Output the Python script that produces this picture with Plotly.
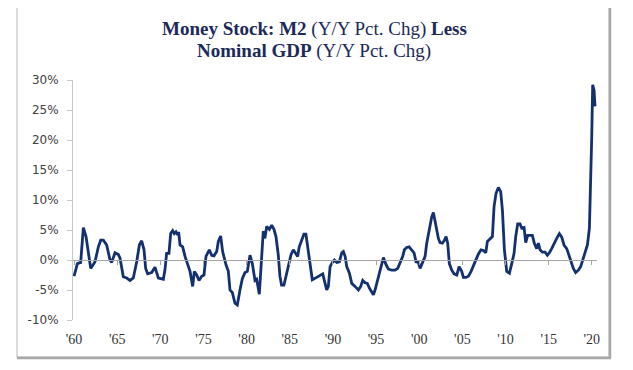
import plotly.graph_objects as go

years = [
    1960.00, 1960.39, 1960.77, 1961.08, 1961.39, 1961.66, 1961.93, 1962.16, 1962.43, 1962.82,
    1963.09, 1963.40, 1963.78, 1964.17, 1964.36, 1964.75, 1965.14, 1965.33, 1965.71, 1966.10,
    1966.49, 1966.87, 1967.07, 1967.26, 1967.57, 1967.84, 1968.11, 1968.30, 1968.53, 1969.00,
    1969.38, 1969.58, 1969.77, 1970.35, 1970.54, 1970.73, 1971.00, 1971.20, 1971.43, 1971.62,
    1971.81, 1972.01, 1972.12, 1972.28, 1972.59, 1972.86, 1973.17, 1973.44, 1973.75, 1973.94,
    1974.21, 1974.48, 1974.79, 1975.06, 1975.29, 1975.68, 1975.95, 1976.22, 1976.53, 1976.72,
    1976.99, 1977.22, 1977.61, 1977.88, 1978.07, 1978.34, 1978.65, 1978.92, 1979.23, 1979.50,
    1979.81, 1980.08, 1980.39, 1980.66, 1980.97, 1981.16, 1981.47, 1981.74, 1981.93, 1982.12,
    1982.32, 1982.63, 1982.90, 1983.17, 1983.40, 1983.67, 1983.86, 1984.05, 1984.32, 1984.63,
    1984.94, 1985.14, 1985.41, 1985.71, 1985.91, 1986.10, 1986.37, 1986.64, 1986.87, 1987.14,
    1987.34, 1987.61, 1988.12, 1988.51, 1988.82, 1989.09, 1989.28, 1989.47, 1989.67, 1989.98,
    1990.17, 1990.44, 1990.75, 1991.02, 1991.21, 1991.41, 1991.60, 1991.91, 1992.18, 1992.56,
    1992.95, 1993.22, 1993.45, 1993.72, 1993.99, 1994.23, 1994.50, 1994.69, 1994.88, 1995.07,
    1995.38, 1995.65, 1995.85, 1996.16, 1996.43, 1996.81, 1997.20, 1997.51, 1997.78, 1998.09,
    1998.28, 1998.55, 1998.82, 1999.13, 1999.40, 1999.63, 1999.90, 2000.10, 2000.41, 2000.68,
    2000.87, 2001.18, 2001.45, 2001.64, 2001.83, 2002.03, 2002.22, 2002.41, 2002.68, 2002.92,
    2003.11, 2003.30, 2003.49, 2003.77, 2004.04, 2004.35, 2004.62, 2004.92, 2005.12, 2005.43,
    2005.70, 2006.01, 2006.28, 2006.59, 2006.86, 2007.16, 2007.43, 2007.71, 2007.90, 2008.21,
    2008.48, 2008.67, 2008.90, 2009.17, 2009.44, 2009.64, 2009.87, 2010.14, 2010.45, 2010.72,
    2010.99, 2011.18, 2011.41, 2011.68, 2011.88, 2012.15, 2012.34, 2012.57, 2012.84, 2013.11,
    2013.34, 2013.61, 2013.81, 2014.00, 2014.27, 2014.58, 2014.85, 2015.08, 2015.35, 2015.62,
    2015.93, 2016.24, 2016.51, 2016.78, 2017.09, 2017.28, 2017.55, 2017.86, 2018.13, 2018.44,
    2018.71, 2018.95, 2019.22, 2019.49, 2019.72, 2019.87, 2019.99, 2020.10, 2020.26, 2020.37,
]

spread_pct = [
    -2.7, -0.6, -0.4, 5.4, 3.9, 1.5, -1.4, -0.9, -0.3, 2.2,
    3.3, 3.3, 2.5, 0.0, -0.4, 1.2, 0.9, 0.3, -2.8, -3.0,
    -3.4, -3.0, -1.7, -0.3, 2.5, 3.2, 1.7, -1.4, -2.3, -2.1,
    -1.2, -2.1, -3.0, -3.2, -1.6, 1.1, 1.1, 4.4, 4.9, 4.4,
    4.7, 4.2, 4.7, 2.5, 2.2, 0.6, -0.6, -1.9, -4.4, -1.9,
    -2.5, -3.4, -2.7, -2.5, 0.6, 1.7, 0.8, 0.7, 1.4, 3.1,
    4.0, 1.4, -0.8, -1.9, -5.0, -5.4, -7.2, -7.5, -5.0, -3.1,
    -2.1, -1.9, 0.8, -0.6, -3.4, -3.2, -5.7, 1.7, 4.8, 3.6,
    5.6, 5.1, 5.8, 5.1, 3.9, 0.8, -2.7, -4.2, -4.2, -2.3,
    -0.3, 0.9, 1.7, 1.1, 0.6, 2.2, 3.3, 4.3, 4.3, 1.4,
    -0.3, -3.3, -2.9, -2.5, -2.3, -3.9, -5.0, -4.4, -1.1, -0.3,
    0.0, -0.4, -0.3, 1.2, 1.4, 0.6, -1.1, -2.2, -3.9, -4.4,
    -5.0, -4.4, -3.4, -3.8, -3.9, -4.7, -5.4, -5.8, -5.0, -3.9,
    -1.9, -0.6, 0.4, -0.8, -1.5, -1.7, -1.7, -1.4, -0.6, 0.6,
    1.7, 2.1, 2.2, 1.7, 1.2, -0.3, -0.4, -1.4, -0.3, 0.6,
    2.8, 5.0, 7.2, 7.9, 6.4, 4.9, 3.6, 2.9, 2.8, 3.3,
    3.9, 2.8, -0.6, -1.7, -2.3, -2.5, -1.1, -1.9, -2.9, -2.9,
    -2.7, -1.9, -1.1, 0.1, 1.0, 1.7, 1.6, 1.2, 3.1, 3.6,
    3.9, 8.9, 11.1, 12.1, 11.4, 8.3, 1.7, -1.9, -2.2, -0.6,
    1.1, 3.9, 6.0, 6.0, 5.3, 5.4, 2.9, 4.1, 4.1, 4.1,
    2.8, 1.9, 2.8, 1.7, 1.3, 1.3, 0.8, 1.2, 1.9, 2.8,
    3.6, 4.4, 3.8, 2.5, 1.9, 1.1, 0.0, -1.4, -2.1, -1.7,
    -1.1, 0.0, 1.1, 2.5, 5.3, 12.2, 20.6, 29.2, 28.3, 25.6,
]

x_tick_vals = [1960, 1965, 1970, 1975, 1980, 1985, 1990, 1995, 2000, 2005, 2010, 2015, 2020]
x_tick_text = ["'60", "'65", "'70", "'75", "'80", "'85", "'90", "'95", "'00", "'05", "'10", "'15", "'20"]
y_tick_vals = [-10, -5, 0, 5, 10, 15, 20, 25, 30]
y_tick_text = ["-10%", "-5%", "0%", "5%", "10%", "15%", "20%", "25%", "30%"]

title_line1 = "<b>Money Stock: M2</b> (Y/Y Pct. Chg) <b>Less</b>"
title_line2 = "<b>Nominal GDP</b> (Y/Y Pct. Chg)"

# page body adds an 8px margin; lay the figure out in screen pixels minus that offset
OFF = 8
W, H = 633 - OFF, 370 - OFF
PLOT_L, PLOT_R, PLOT_T, PLOT_B = 73, 597, 80, 320  # screen pixels
ML, MT = PLOT_L - OFF, PLOT_T - OFF
MR, MB = W - (PLOT_R - OFF), H - (PLOT_B - OFF)
PW, PH = PLOT_R - PLOT_L, PLOT_B - PLOT_T
X_RANGE = [1959.88, 2020.60]
Y_RANGE = [-10, 30]


def px_x(p):
    return (p - PLOT_L) / PW


def px_y(p):
    return (PLOT_B - p) / PH


line_color = "#13306f"
title_color = "#1b2a5a"
title_font = dict(family="Liberation Serif", size=19, color=title_color)

fig = go.Figure()
fig.add_trace(go.Scatter(
    x=years, y=spread_pct, mode="lines",
    line=dict(color=line_color, width=2.8),
    hoverinfo="skip", showlegend=False,
))
# invisible trace so the zero-crossing axis is rendered
fig.add_trace(go.Scatter(
    x=[years[0]], y=[0], xaxis="x2", mode="markers",
    marker=dict(opacity=0), hoverinfo="skip", showlegend=False,
))

zero_pos = (0 - Y_RANGE[0]) / (Y_RANGE[1] - Y_RANGE[0])

fig.update_layout(
    width=W, height=H,
    margin=dict(l=ML, r=MR, t=MT, b=MB),
    paper_bgcolor="white", plot_bgcolor="white",
    annotations=[
        dict(text=title_line1, xref="paper", yref="paper", x=px_x(314), y=px_y(29),
             xanchor="center", yanchor="middle", showarrow=False, font=title_font),
        dict(text=title_line2, xref="paper", yref="paper", x=px_x(314), y=px_y(51),
             xanchor="center", yanchor="middle", showarrow=False, font=title_font),
    ],
    xaxis=dict(
        range=X_RANGE, tickmode="array", tickvals=x_tick_vals, ticktext=x_tick_text,
        showgrid=False, zeroline=False, showline=False, ticks="",
        tickfont=dict(family="Liberation Serif", size=14, color="#333333"),
        ticklabelstandoff=9,
    ),
    xaxis2=dict(
        range=X_RANGE, overlaying="x", anchor="free", position=zero_pos,
        tickmode="array", tickvals=x_tick_vals, showticklabels=False,
        showgrid=False, zeroline=False, showline=True, linecolor="#a6a6a6", linewidth=1,
        ticks="outside", ticklen=4, tickcolor="#a6a6a6", tickwidth=1,
    ),
    yaxis=dict(
        range=Y_RANGE, tickmode="array", tickvals=y_tick_vals, ticktext=y_tick_text,
        showgrid=False, zeroline=False, showline=True, linecolor="#c8c8c8", linewidth=1,
        ticks="outside", ticklen=5, tickcolor="#c8c8c8",
        tickfont=dict(family="DejaVu Sans", size=12, color="#404040"),
        ticklabelstandoff=6,
    ),
    shapes=[
        dict(type="rect", xref="paper", yref="paper",
             x0=px_x(17), x1=px_x(609), y0=px_y(357), y1=px_y(7),
             line=dict(color="#cfcfcf", width=1.5), layer="below"),
        dict(type="line", xref="paper", yref="paper",
             x0=px_x(610), x1=px_x(610), y0=px_y(358), y1=px_y(7),
             line=dict(color="#a8a8a8", width=2.5)),
        dict(type="line", xref="paper", yref="paper",
             x0=px_x(17), x1=px_x(611), y0=px_y(358), y1=px_y(358),
             line=dict(color="#a8a8a8", width=2.5)),
    ],
)

fig.write_html("out.html")
